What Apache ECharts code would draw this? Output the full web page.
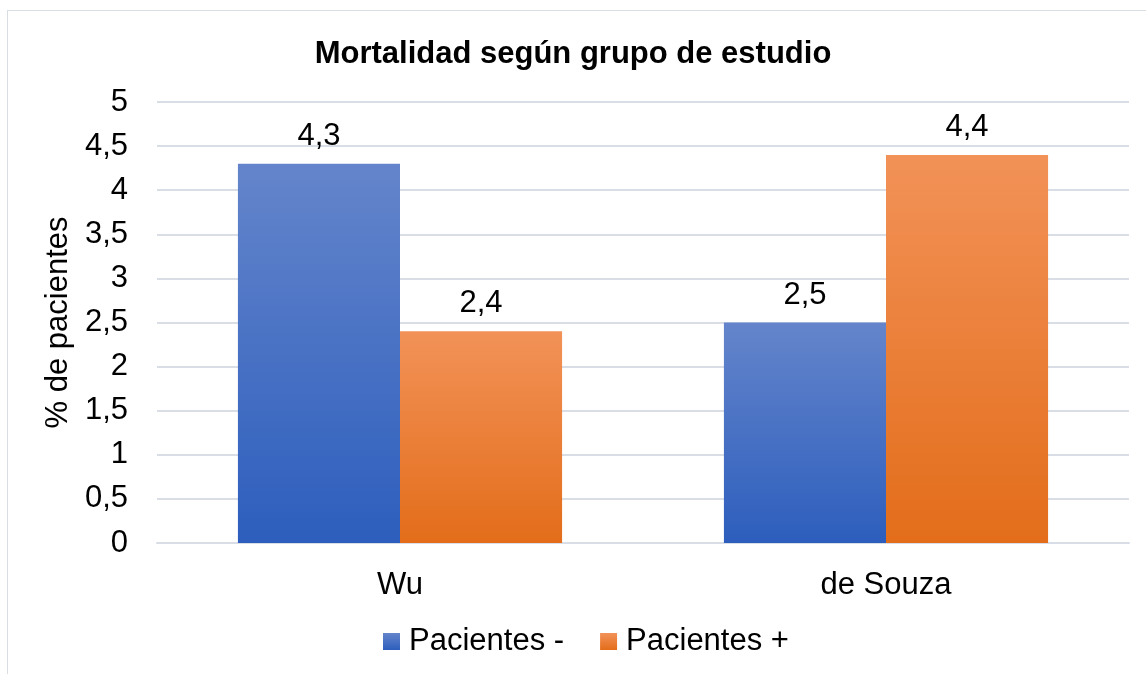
<!DOCTYPE html>
<html>
<head>
<meta charset="utf-8">
<script src="https://cdn.jsdelivr.net/npm/echarts@6/dist/echarts.min.js"></script>
<style>
  html, body { margin: 0; padding: 0; background: #fff; }
  #chart { width: 1146px; height: 674px; }
  .frame { position: absolute; left: 7px; top: 10px; width: 1150px; height: 680px; border: 1px solid #d9dde4; box-sizing: border-box; pointer-events: none; }
</style>
</head>
<body>
<div id="chart"></div>
<div class="frame"></div>
<script>
  const categories = ['Wu', 'de Souza']
  const pacientesMenos = [4.3, 2.5]
  const pacientesMas = [2.4, 4.4]
  const seriesNames = ['Pacientes -', 'Pacientes +']

  const fmt = v => String(v).replace('.', ',')

  function grad(top, bottom) {
    return new echarts.graphic.LinearGradient(0, 0, 0, 1, [
      { offset: 0, color: top },
      { offset: 1, color: bottom }
    ])
  }

  const chart = echarts.init(document.getElementById('chart'))
  const font = 'Liberation Sans, Arial, sans-serif'
  const fs = 31
  const option = {
    animation: false,
    textStyle: { fontFamily: font },
    title: {
      text: 'Mortalidad según grupo de estudio',
      left: 'center',
      top: 34,
      textStyle: { fontSize: 31, fontWeight: 'bold', color: '#000', fontFamily: font }
    },
    legend: {
      bottom: 12,
      left: 378,
      itemWidth: 17,
      itemHeight: 17,
      itemGap: 36,
      icon: 'rect',
      textStyle: { fontSize: fs, color: '#000', fontFamily: font, padding: [0, 0, 0, 4] },
      data: seriesNames
    },
    grid: { left: 157, right: 17, top: 102, bottom: 131 },
    xAxis: {
      type: 'category',
      data: categories,
      axisLine: { lineStyle: { color: '#d9dde6', width: 2 } },
      axisTick: { show: false },
      axisLabel: { fontSize: fs, color: '#000', margin: 27 }
    },
    yAxis: {
      type: 'value',
      min: 0,
      max: 5,
      interval: 0.5,
      name: '% de pacientes',
      nameLocation: 'middle',
      nameGap: 79,
      nameTextStyle: { fontSize: fs, color: '#000' },
      axisLabel: { fontSize: fs, color: '#000', margin: 29, formatter: fmt },
      splitLine: { lineStyle: { color: '#d9dde6', width: 2 } }
    },
    series: [
      {
        name: seriesNames[0],
        type: 'bar',
        data: pacientesMenos,
        barGap: '0%',
        barCategoryGap: '33.3%',
        itemStyle: { color: grad('#6485CB', '#2D5EBD') },
        label: { show: true, position: 'top', distance: 12, fontSize: fs, color: '#000', formatter: p => fmt(p.value) }
      },
      {
        name: seriesNames[1],
        type: 'bar',
        data: pacientesMas,
        itemStyle: { color: grad('#F29258', '#E36D1A') },
        label: { show: true, position: 'top', distance: 12, fontSize: fs, color: '#000', formatter: p => fmt(p.value) }
      }
    ]
  }
  chart.setOption(option)
</script>
</body>
</html>
